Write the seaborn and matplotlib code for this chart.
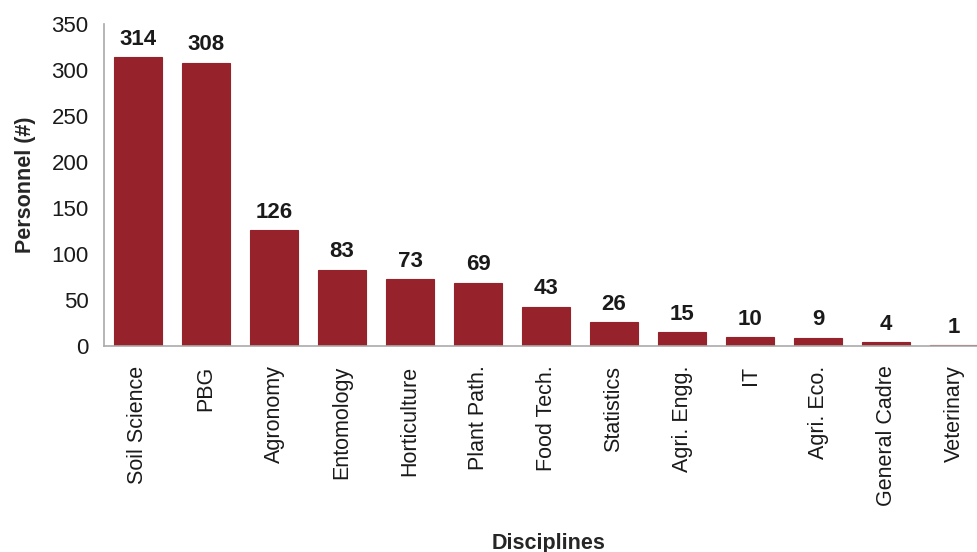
import matplotlib
matplotlib.use("Agg")
import matplotlib.pyplot as plt
import seaborn as sns
import pandas as pd

categories = ["Soil Science", "PBG", "Agronomy", "Entomology", "Horticulture",
              "Plant Path.", "Food Tech.", "Statistics", "Agri. Engg.", "IT",
              "Agri. Eco.", "General Cadre", "Veterinary"]
values = [314, 308, 126, 83, 73, 69, 43, 26, 15, 10, 9, 4, 1]
yticks = [0, 50, 100, 150, 200, 250, 300, 350]

sns.set_style("white")
plt.rcParams['font.family'] = ['Liberation Sans', 'DejaVu Sans']

df = pd.DataFrame({"Discipline": categories, "Personnel": values})

fig = plt.figure(figsize=(9.77, 5.52), dpi=100)
ax = fig.add_axes([0.1064, 0.373, 0.905, 0.5835])
sns.barplot(data=df, x="Discipline", y="Personnel", color="#96222B",
            width=0.71, saturation=1, edgecolor="#96222B", linewidth=0.8, ax=ax)
for p, v in zip(ax.patches, values):
    ax.text(p.get_x() + p.get_width() / 2, v + 8, str(v), ha="center", va="bottom",
            fontsize=16, fontweight="bold", color="#1a1a1a")
ax.set_ylim(0, 350)
ax.set_xlim(-0.5, 12.5)
ax.set_yticks(yticks)
ax.set_yticklabels([str(t) for t in yticks], fontsize=16, color="#1a1a1a")
ax.set_xticks(range(len(categories)))
ax.set_xticklabels(categories, rotation=90, fontsize=15.5, color="#1a1a1a")
ax.tick_params(axis="y", length=0, pad=11)
ax.tick_params(axis="x", length=0, pad=14)
for s in ["top", "right"]:
    ax.spines[s].set_visible(False)
for s in ["left", "bottom"]:
    ax.spines[s].set_color("#aaaaaa")
    ax.spines[s].set_linewidth(1.2)
ax.set_xlabel("")
ax.set_ylabel("Personnel (#)", fontsize=15.5, fontweight="bold", labelpad=11)
fig.text(0.561, 0.016, "Disciplines", ha="center", va="center", fontsize=15.5,
         fontweight="bold")
fig.savefig("out.png", dpi=100)
